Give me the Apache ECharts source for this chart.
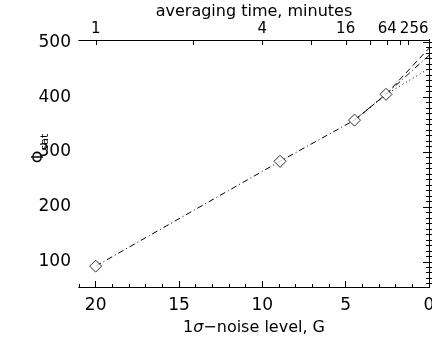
<!DOCTYPE html>
<html>
<head>
<meta charset="utf-8">
<script src="https://cdn.jsdelivr.net/npm/echarts@6/dist/echarts.min.js"></script>
<style>html,body{margin:0;padding:0;background:#fff}#c{width:432px;height:339px}</style>
</head>
<body>
<div id="c"></div>
<script>
// Measured points (noise level G, Phi_sat)
const noiseLevels = [20, 8.94, 4.47, 2.58];
const phiSat = [92, 283, 358, 405];
// Fit lines
const dashDotX = [20, 8.94, 4.47, 2.58, 0];
const dashDotY = [92, 283, 358, 405, 476];
const dashedX = [4.47, 2.58, 0];
const dashedY = [358, 405, 489];
const dottedX = [4.47, 2.58, 0];
const dottedY = [358, 405, 452];
// Axis ticks
const bottomMajor = [0, 5, 10, 15, 20];
const bottomMinor = [1,2,3,4,6,7,8,9,11,12,13,14,16,17,18,19,21];
const leftMajor = [100, 200, 300, 400, 500];
const leftMinor = [60,70,80,90,110,120,130,140,150,160,170,180,190,210,220,230,240,250,260,270,280,290,310,320,330,340,350,360,370,380,390,410,420,430,440,450,460,470,480,490];
const avgTimeTicks = [1, 2, 4, 8, 16, 32, 64, 128, 256];
const avgTimeLabels = [1, 4, 16, 64];
const avgTimeLastLabel = [256];

const X_MIN = 0, X_MAX = 21, Y_MIN = 54, Y_MAX = 504;
const FONT = 'DejaVu Sans';
const toNoise = t => 20 / Math.sqrt(t);
const toTime = v => String(Math.round(400 / (v * v)));
const pairs = (xs, ys) => xs.map((x, i) => [x, ys[i]]);

const baseX = (extra) => Object.assign({
  type: 'value', min: X_MIN, max: X_MAX, inverse: true,
  splitLine: {show: false}, nameMoveOverlap: false,
  axisLine: {show: true, lineStyle: {color: '#000', width: 1}}
}, extra);
const baseY = (extra) => Object.assign({
  type: 'value', min: Y_MIN, max: Y_MAX,
  splitLine: {show: false}, nameMoveOverlap: false,
  axisLine: {show: true, lineStyle: {color: '#000', width: 1}}
}, extra);
const tick = (vals, len) => ({show: true, inside: true, length: len, customValues: vals, lineStyle: {color: '#000', width: 1}});

const chart = echarts.init(document.getElementById('c'), null, {renderer: 'canvas'});
chart.setOption({
  animation: false,
  backgroundColor: '#fff',
  grid: {left: 79, right: 3, top: 40, bottom: 52, containLabel: false, outerBoundsMode: 'none'},
  xAxis: [
    baseX({
      position: 'bottom',
      name: '1{s|σ}−noise level, G', nameLocation: 'middle', nameGap: 33,
      nameTextStyle: {fontFamily: FONT, fontSize: 16, color: '#000',
        rich: {s: {fontFamily: FONT, fontSize: 16, fontStyle: 'italic', color: '#000'}}},
      axisTick: tick(bottomMajor, 6),
      axisLabel: {show: true, customValues: bottomMajor, margin: 10, fontFamily: FONT, fontSize: 17, color: '#000'}
    }),
    baseX({position: 'bottom', offset: 0, axisTick: tick(bottomMinor, 3), axisLabel: {show: false}}),
    baseX({
      position: 'top', offset: 0,
      name: 'averaging time, minutes', nameLocation: 'middle', nameGap: 20,
      nameTextStyle: {fontFamily: FONT, fontSize: 16, color: '#000'},
      axisTick: {show: false},
      axisLabel: {show: true, customValues: avgTimeLabels.map(toNoise), margin: 3, fontFamily: FONT, fontSize: 15, color: '#000', formatter: toTime}
    }),
    baseX({
      position: 'top', offset: 0,
      axisTick: {show: false},
      axisLabel: {show: true, customValues: avgTimeLastLabel.map(toNoise), margin: 3, fontFamily: FONT, fontSize: 15, color: '#000',
        formatter: v => '{r|' + toTime(v) + '}', rich: {r: {fontFamily: FONT, fontSize: 15, color: '#000', padding: [0, 0, 0, 12]}}}
    })
  ],
  yAxis: [
    baseY({
      position: 'left',
      name: '{phi|Φ}{sub|sat}', nameLocation: 'middle', nameGap: 28, nameRotate: 90,
      nameTextStyle: {color: '#000', padding: [0, 0, 0, 30], rich: {
        phi: {fontFamily: FONT, fontSize: 16, color: '#000', verticalAlign: 'top'},
        sub: {fontFamily: FONT, fontSize: 11, color: '#000', verticalAlign: 'bottom', padding: [9, 0, 0, 0]}
      }},
      axisTick: tick(leftMajor, 6),
      axisLabel: {show: true, customValues: leftMajor, margin: 8, fontFamily: FONT, fontSize: 17, color: '#000'}
    }),
    baseY({position: 'left', offset: 0, axisTick: tick(leftMinor, 3), axisLabel: {show: false}}),
    baseY({position: 'right', offset: 0, axisTick: tick(leftMajor, 6), axisLabel: {show: false}}),
    baseY({position: 'right', offset: 0, axisTick: tick(leftMinor, 3), axisLabel: {show: false}})
  ],
  series: [
    {type: 'line', data: pairs(dashDotX, dashDotY), symbol: 'none', xAxisIndex: 0, yAxisIndex: 0,
      lineStyle: {color: '#000', width: 1, type: [6, 3, 1, 3]}},
    {type: 'line', data: pairs(dashedX, dashedY), symbol: 'none', xAxisIndex: 0, yAxisIndex: 0,
      lineStyle: {color: '#000', width: 1, type: [6, 4]}},
    {type: 'line', data: pairs(dottedX, dottedY), symbol: 'none', xAxisIndex: 0, yAxisIndex: 0,
      lineStyle: {color: '#000', width: 1, type: [1, 3]}},
    {type: 'scatter', data: pairs(noiseLevels, phiSat), xAxisIndex: 0, yAxisIndex: 0, z: 5,
      symbol: 'diamond', symbolSize: 12,
      itemStyle: {color: '#fff', borderColor: '#000', borderWidth: 1}},
    // top-axis tick marks for averaging time, positioned through the x scale
    {type: 'custom', xAxisIndex: 0, yAxisIndex: 0, z: 6, silent: true, clip: false,
      data: avgTimeTicks.map(t => [toNoise(t), Y_MAX]),
      renderItem: (params, api) => {
        const p = api.coord([api.value(0), api.value(1)]);
        const x = Math.round(p[0]) + 0.5;
        return {type: 'line', shape: {x1: x, y1: p[1], x2: x, y2: p[1] + 5},
          style: {stroke: '#000', lineWidth: 1}};
      }}
  ]
});
</script>
</body>
</html>
